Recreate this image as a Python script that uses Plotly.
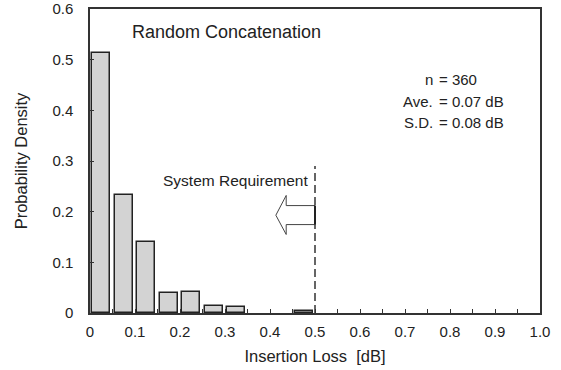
import plotly.graph_objects as go

# Data
bin_centers = [0.025, 0.075, 0.125, 0.175, 0.225, 0.275, 0.325, 0.475]
density = [0.514, 0.233, 0.140, 0.039, 0.042, 0.014, 0.011, 0.003]
x_tick_vals = [0.0, 0.1, 0.2, 0.3, 0.4, 0.5, 0.6, 0.7, 0.8, 0.9, 1.0]
x_tick_text = ["0", "0.1", "0.2", "0.3", "0.4", "0.5", "0.6", "0.7", "0.8", "0.9", "1.0"]
y_tick_vals = [0, 0.1, 0.2, 0.3, 0.4, 0.5, 0.6]
y_tick_text = ["0", "0.1", "0.2", "0.3", "0.4", "0.5", "0.6"]
requirement = 0.5
stats_labels = ["n", "Ave.", "S.D."]
stats_values = ["= 360", "= 0.07 dB", "= 0.08 dB"]

FONT = "Liberation Sans, Arial, sans-serif"
TXT = "#222222"

fig = go.Figure()
fig.add_trace(go.Bar(
    x=bin_centers, y=density, width=0.04,
    marker=dict(color="#d3d3d3", line=dict(color="#222222", width=1.5)),
    showlegend=False,
))

# dashed system requirement line
fig.add_shape(type="line", x0=requirement, x1=requirement, y0=0, y1=0.29,
              xref="x", yref="y", line=dict(color="#333333", width=1.5, dash="8px,4px"))

# hollow arrow pointing left
fig.add_shape(type="path", xref="x", yref="y",
              path="M 0.5,0.212 L 0.436,0.212 L 0.436,0.232 L 0.413,0.193 L 0.436,0.155 L 0.436,0.1745 L 0.5,0.1745",
              line=dict(color="#444444", width=1), fillcolor="rgba(0,0,0,0)")
fig.add_shape(type="line", x0=0.5, x1=0.5, y0=0.1745, y1=0.212, xref="x", yref="y",
              line=dict(color="#222222", width=2))

fig.add_annotation(x=0.089, y=0.555, xref="x", yref="y", text="Random Concatenation",
                   showarrow=False, xanchor="left", font=dict(family=FONT, size=18, color=TXT))
fig.add_annotation(x=0.489, y=0.261, xref="x", yref="y", text="System Requirement",
                   showarrow=False, xanchor="right", font=dict(family=FONT, size=15.5, color=TXT))

stats_y = [0.461, 0.418, 0.376]
for lab, val, yy in zip(stats_labels, stats_values, stats_y):
    fig.add_annotation(x=0.766, y=yy, xref="x", yref="y", text=lab, showarrow=False,
                       xanchor="right", font=dict(family=FONT, size=15, color=TXT))
    fig.add_annotation(x=0.771, y=yy, xref="x", yref="y", text=val, showarrow=False,
                       xanchor="left", font=dict(family=FONT, size=15, color=TXT))

axis_common = dict(showline=True, linecolor="#333333", linewidth=1.5, mirror=True,
                   showgrid=False, zeroline=False, ticks="inside", ticklen=4,
                   tickcolor="#333333", tickwidth=1.2, automargin=False,
                   tickfont=dict(family=FONT, size=15, color=TXT))

fig.update_xaxes(range=[0, 1.0], tickvals=x_tick_vals, ticktext=x_tick_text,
                 ticklabelstandoff=4,
                 minor=dict(dtick=0.05, tick0=0, ticks="inside", ticklen=4,
                            tickcolor="#333333", tickwidth=1.2),
                 title=dict(text="Insertion Loss&nbsp;&nbsp;[dB]",
                            font=dict(family=FONT, size=16.5, color=TXT), standoff=12),
                 **axis_common)
fig.update_yaxes(range=[0, 0.6], tickvals=y_tick_vals, ticktext=y_tick_text,
                 ticklabelstandoff=12,
                 title=dict(text="Probability Density", font=dict(family=FONT, size=16.5, color=TXT),
                            standoff=21),
                 **axis_common)

fig.update_layout(width=561, height=370, margin=dict(l=90, r=21, t=9, b=57),
                  plot_bgcolor="white", paper_bgcolor="white", bargap=0)
fig.write_html("out.html", config={"displayModeBar": False},
               post_script="document.body.style.margin='0';")
